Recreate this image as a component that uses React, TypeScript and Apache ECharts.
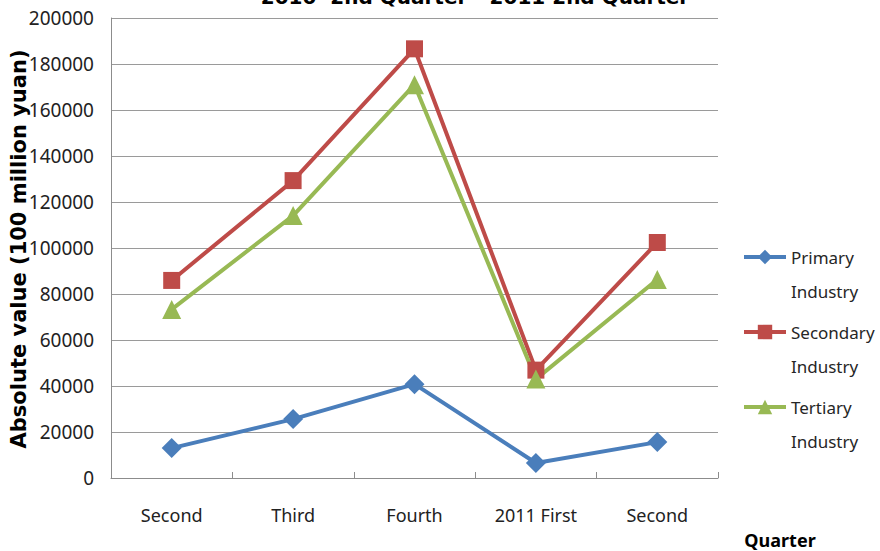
import React, { useEffect, useRef } from "react";
import * as echarts from "echarts";

const titleText = "2010  2nd Quarter - 2011 2nd Quarter";
const categories = ["Second", "Third", "Fourth", "2011 First", "Second"];
const primary = [13000, 25600, 40800, 6500, 15600];
const secondary = [85900, 129300, 186600, 46900, 102400];
const tertiary = [73300, 114100, 171000, 43000, 86300];
const seriesNames = ["Primary Industry", "Secondary Industry", "Tertiary Industry"];
const yAxisName = "Absolute value (100 million yuan)";
const xAxisName = "Quarter";

const FONT = "'Noto Sans', sans-serif";
const BOLD = "'DejaVu Sans', sans-serif";

export default function App() {
  const ref = useRef<HTMLDivElement>(null);
  useEffect(() => {
    if (!ref.current) return;
    const chart = echarts.init(ref.current, null, { renderer: "svg" });
    const mk = (name: string, data: number[], color: string, symbol: string, size: number) => ({
      name,
      type: "line",
      data,
      symbol,
      symbolSize: size,
      showAllSymbol: true,
      lineStyle: { color, width: 4 },
      itemStyle: { color },
      z: 3,
    });
    chart.setOption({
      animation: false,
      backgroundColor: "#ffffff",
      grid: { left: 111, right: 162, top: 18, bottom: 73, containLabel: false },
      graphic: [
        {
          type: "text",
          x: 475,
          y: -3,
          style: {
            text: titleText,
            font: `bold 20px ${BOLD}`,
            fill: "#000",
            align: "center",
            verticalAlign: "middle",
          },
        },
        {
          type: "text",
          x: 780,
          y: 540,
          style: {
            text: xAxisName,
            font: `bold 18px ${FONT}`,
            fill: "#000",
            align: "center",
            verticalAlign: "middle",
          },
        },
        {
          type: "text",
          x: 19,
          y: 249,
          rotation: Math.PI / 2,
          style: {
            text: yAxisName,
            font: `bold 21px ${BOLD}`,
            fill: "#000",
            align: "center",
            verticalAlign: "middle",
          },
        },
      ],
      legend: {
        orient: "vertical",
        left: 742,
        top: 206,
        padding: 0,
        itemWidth: 42,
        itemHeight: 18,
        itemGap: -27,
        data: seriesNames,
        formatter: (n: string) => "\n" + n.replace(" ", "\n"),
        lineStyle: { width: 4 },
        textStyle: { fontFamily: FONT, fontSize: 17, color: "#262626", lineHeight: 34 },
      },
      xAxis: {
        type: "category",
        data: categories,
        boundaryGap: true,
        axisLine: { show: true, lineStyle: { color: "#8c8c8c", width: 1 } },
        axisTick: { show: true, inside: true, length: 6, lineStyle: { color: "#8c8c8c" } },
        axisLabel: { fontFamily: FONT, fontSize: 18, color: "#222", margin: 28 },
      },
      yAxis: {
        type: "value",
        min: 0,
        max: 200000,
        interval: 20000,
        axisLine: { show: true, lineStyle: { color: "#8c8c8c", width: 1 } },
        axisTick: { show: false },
        axisLabel: {
          fontFamily: FONT,
          fontSize: 19,
          color: "#222",
          margin: 17,
          formatter: (v: number) => String(v),
        },
        splitLine: { show: true, lineStyle: { color: "#9a9a9a", width: 1 } },
      },
      series: [
        mk(seriesNames[0], primary, "#4a7ebb", "diamond", 20),
        mk(seriesNames[1], secondary, "#be4b48", "rect", 17),
        mk(seriesNames[2], tertiary, "#98b954", "triangle", 19),
      ],
    });
    return () => chart.dispose();
  }, []);
  return <div ref={ref} style={{ width: 880, height: 551, position: "absolute", left: 0, top: 0 }} />;
}
